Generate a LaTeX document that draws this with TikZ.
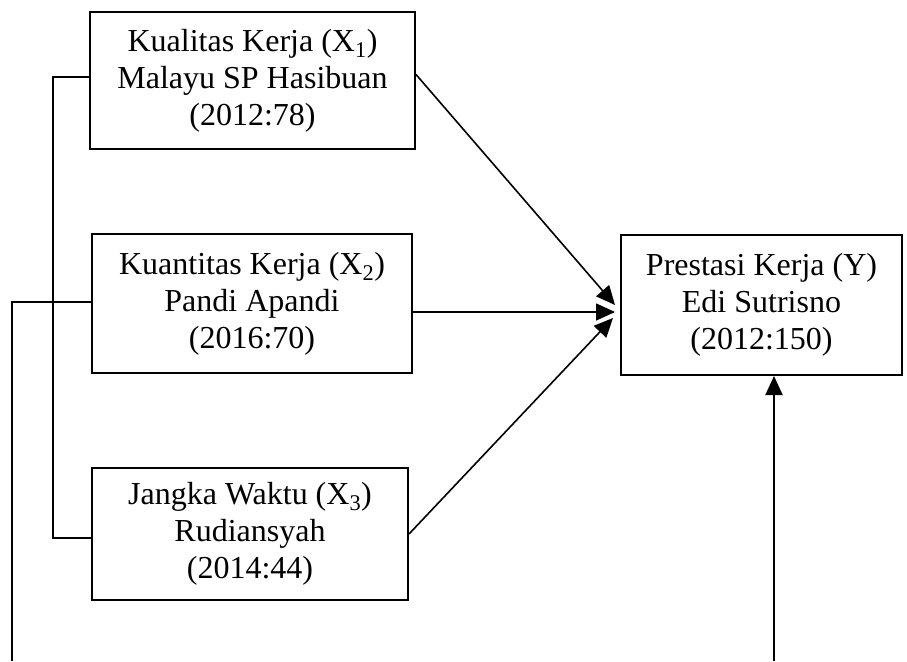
\documentclass[tikz,border=0pt]{standalone}
\usepackage{fontspec}
\setmainfont{Liberation Serif}
\usepackage{tikz}
\usetikzlibrary{arrows.meta}

\begin{document}
\begin{tikzpicture}[x=1pt,y=-1pt,
  varbox/.style={draw,line width=2pt,align=center,inner sep=0pt,font=\fontsize{32}{37}\selectfont},
  link/.style={line width=2pt},
  arr/.style={line width=1.6pt,-{Triangle[length=19pt,width=17pt]}}]
\useasboundingbox (0,0) rectangle (907,661);
\node[varbox,minimum width=325pt,minimum height=137pt] (xone) at (252.5,80.5) {Kualitas Kerja (X\textsubscript{1})\\Malayu SP Hasibuan\\(2012:78)};
\node[varbox,minimum width=320pt,minimum height=139pt] (xtwo) at (252,303.5) {Kuantitas Kerja (X\textsubscript{2})\\Pandi Apandi\\(2016:70)};
\node[varbox,minimum width=316pt,minimum height=132pt] (xthree) at (250,534) {Jangka Waktu (X\textsubscript{3})\\Rudiansyah\\(2014:44)};
\node[varbox,minimum width=281pt,minimum height=140pt] (yy) at (761.5,305) {Prestasi Kerja (Y)\\Edi Sutrisno\\(2012:150)};
\coordinate (lowleft) at (12,661);
\coordinate (lowright) at (774,661);
\draw [link] ([yshift=4pt]xone.west) -- ++(-36,0) |- ([yshift=-4pt]xthree.west);
\draw [link] ([yshift=1.5pt]xtwo.west) -| (lowleft);
\draw [arr] ([yshift=6pt]xone.east) -- ([xshift=-5pt]yy.west);
\draw [arr] ([yshift=-8.5pt]xtwo.east) -- ([xshift=-5pt,yshift=-7pt]yy.west);
\draw [arr] (xthree.east) -- ([xshift=-7pt,yshift=-13pt]yy.west);
\draw [arr,line width=2pt] (lowright) -- (yy.south -| lowright);
\end{tikzpicture}
\end{document}
